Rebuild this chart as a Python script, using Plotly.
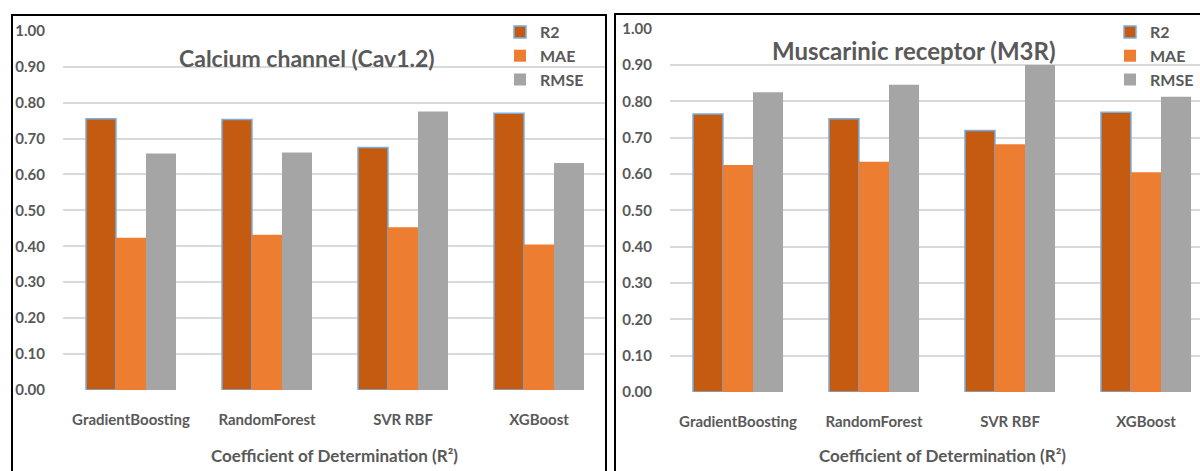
import plotly.graph_objects as go

models = ["GradientBoosting", "RandomForest", "SVR RBF", "XGBoost"]
metrics = ["R2", "MAE", "RMSE"]

# Left panel: Calcium channel (Cav1.2)
cav_r2 = [0.755, 0.753, 0.675, 0.770]
cav_mae = [0.424, 0.432, 0.453, 0.405]
cav_rmse = [0.658, 0.661, 0.775, 0.632]

# Right panel: Muscarinic receptor (M3R)
m3r_r2 = [0.765, 0.752, 0.720, 0.770]
m3r_mae = [0.625, 0.634, 0.682, 0.605]
m3r_rmse = [0.825, 0.846, 0.900, 0.813]

y_ticks = [0.0, 0.1, 0.2, 0.3, 0.4, 0.5, 0.6, 0.7, 0.8, 0.9, 1.0]
y_ticktext = ["%.2f" % v for v in y_ticks]

left_title = "Calcium channel (Cav1.2)"
right_title = "Muscarinic receptor (M3R)"
x_title = "Coefficient of Determination (R²)"

colors = {"R2": "#C55A11", "MAE": "#ED7D31", "RMSE": "#A5A5A5"}
outline = {"R2": dict(color="#7AAEE0", width=1.5),
           "MAE": dict(width=0),
           "RMSE": dict(width=0)}

W, H = 1200, 471
FONT = "Lato, Open Sans, sans-serif"
TXT = "#595959"

fig = go.Figure()

for name, vals in zip(metrics, [cav_r2, cav_mae, cav_rmse]):
    fig.add_trace(go.Bar(x=models, y=vals, name=name, marker_color=colors[name],
                         marker_line=outline[name], xaxis="x", yaxis="y",
                         legend="legend"))
for name, vals in zip(metrics, [m3r_r2, m3r_mae, m3r_rmse]):
    fig.add_trace(go.Bar(x=models, y=vals, name=name, marker_color=colors[name],
                         marker_line=outline[name], xaxis="x2", yaxis="y2",
                         legend="legend2"))

def px(x):
    return x / W

def py(y):
    return 1 - y / H

axis_common = dict(showline=False, zeroline=False, automargin=False)
xcommon = dict(type="category", showgrid=False, ticks="outside", ticklen=16,
               tickcolor="rgba(0,0,0,0)", tickfont=dict(family=FONT, size=15, color=TXT, weight="bold"),
               **axis_common)
ycommon = dict(range=[0, 1.002], tickvals=y_ticks, ticktext=y_ticktext, showgrid=True,
               gridcolor="#D9D9D9", gridwidth=1.5, ticks="outside", ticklen=14,
               tickcolor="rgba(0,0,0,0)",
               tickfont=dict(family=FONT, size=15, color=TXT, weight="bold"), **axis_common)

fig.update_layout(
    width=W, height=H,
    margin=dict(l=0, r=0, t=0, b=0, autoexpand=False),
    paper_bgcolor="white", plot_bgcolor="white",
    barmode="group", bargap=0.338, bargroupgap=0,
    font=dict(family=FONT, color=TXT),
    xaxis=dict(domain=[px(63), px(607)], range=[-0.5, 3.5], anchor="y", **xcommon),
    yaxis=dict(domain=[py(390), py(30)], anchor="x", **ycommon),
    xaxis2=dict(domain=[px(670), 1.0], range=[-0.5, 3.5 - 14 / 136], anchor="y2", **xcommon),
    yaxis2=dict(domain=[py(392), py(28)], anchor="x2", **ycommon),
    legend=dict(x=px(500), y=py(15), xanchor="left", yanchor="top", bgcolor="rgba(0,0,0,0)",
                font=dict(family=FONT, size=16, color=TXT, weight="bold"), tracegroupgap=0),
    legend2=dict(x=px(1110), y=py(15), xanchor="left", yanchor="top", bgcolor="rgba(0,0,0,0)",
                 font=dict(family=FONT, size=16, color=TXT, weight="bold"), tracegroupgap=0),
    showlegend=True,
)

annotations = [
    dict(text=left_title, x=px(307), y=py(58), xref="paper", yref="paper",
         xanchor="center", yanchor="middle",
         showarrow=False, font=dict(family=FONT, size=23, color=TXT, weight="bold")),
    dict(text=right_title, x=px(914), y=py(51), xref="paper", yref="paper",
         xanchor="center", yanchor="middle",
         showarrow=False, font=dict(family=FONT, size=24, color=TXT, weight="bold")),
    dict(text=x_title, x=px(334), y=py(455), xref="paper", yref="paper",
         xanchor="center", yanchor="middle",
         showarrow=False, font=dict(family=FONT, size=17, color=TXT, weight="bold")),
    dict(text=x_title, x=px(942), y=py(455), xref="paper", yref="paper",
         xanchor="center", yanchor="middle",
         showarrow=False, font=dict(family=FONT, size=17, color=TXT, weight="bold")),
]
fig.update_layout(annotations=annotations)

shapes = [
    dict(type="rect", xref="paper", yref="paper", x0=px(12), x1=px(606), y0=-0.2, y1=py(15),
         line=dict(color="black", width=2), fillcolor="rgba(0,0,0,0)", layer="above"),
    dict(type="rect", xref="paper", yref="paper", x0=px(615), x1=1.2, y0=-0.2, y1=py(14),
         line=dict(color="black", width=2), fillcolor="rgba(0,0,0,0)", layer="above"),
]
fig.update_layout(shapes=shapes)

fig.write_html("out.html",
               config={"displayModeBar": False},
               post_script="document.body.style.margin='0';document.body.style.overflow='hidden';")
